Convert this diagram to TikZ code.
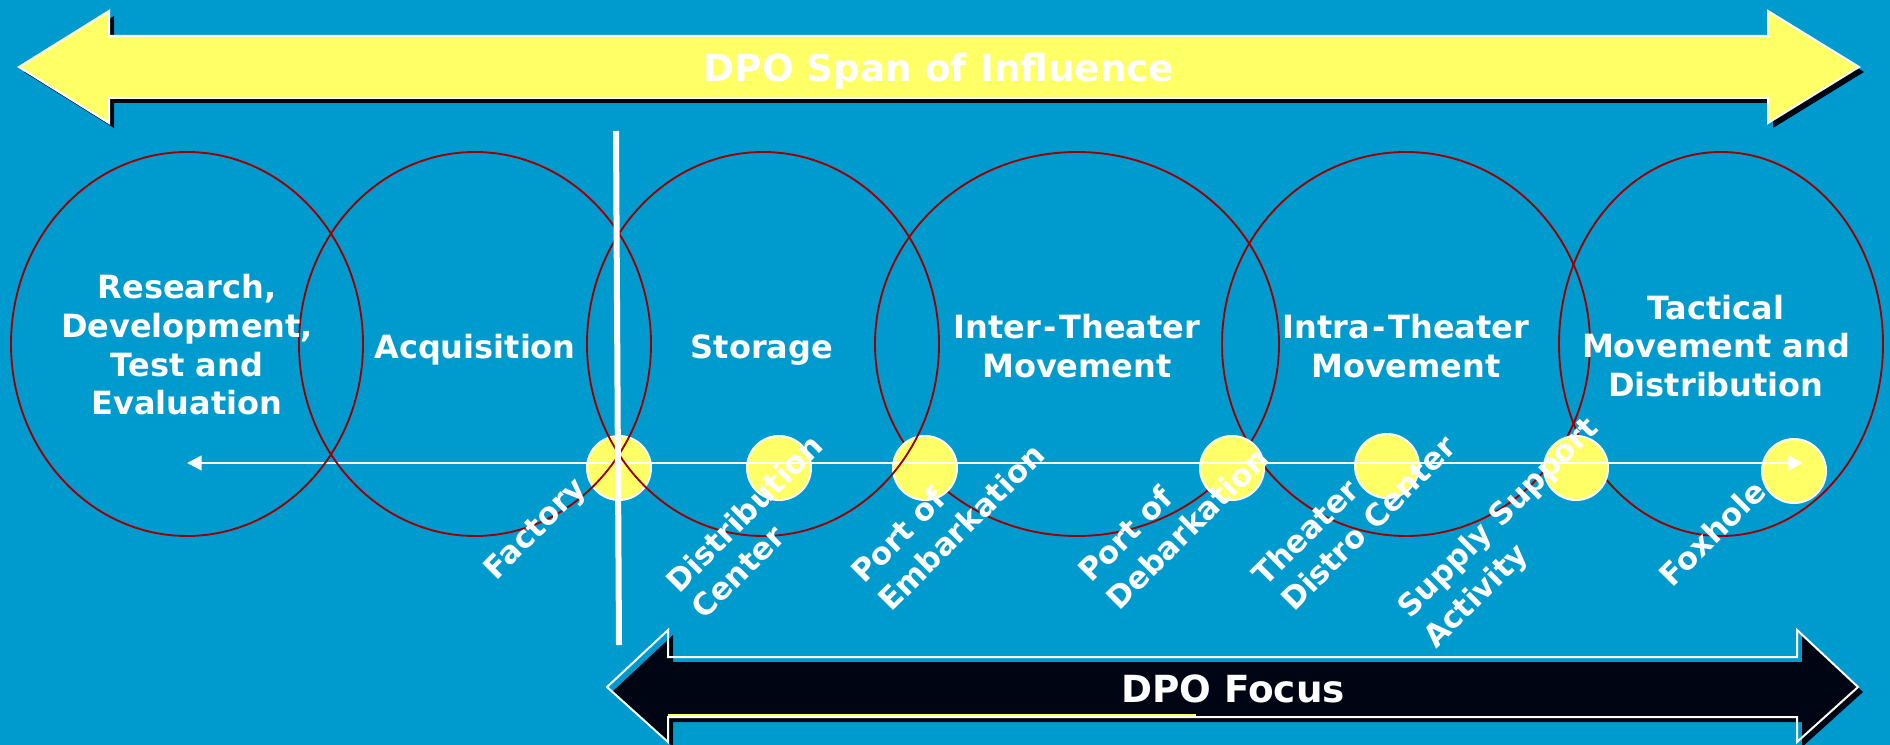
\documentclass[tikz,border=0pt]{standalone}
\usepackage{fontspec}
\setmainfont{DejaVu Sans}
\usetikzlibrary{shapes.geometric,arrows.meta}
\definecolor{bgblue}{HTML}{009BCE}
\definecolor{lemon}{HTML}{FFFF66}
\definecolor{ringred}{HTML}{990000}
\definecolor{inky}{HTML}{000514}
\tikzset{
  ring/.style={ellipse,draw=ringred,line width=1.4pt,inner sep=0pt,outer sep=0pt,minimum height=288pt},
  stop/.style={circle,fill=lemon,draw=white,line width=1.5pt,inner sep=0pt,outer sep=0pt,minimum size=48pt},
  phase/.style={text=white,font=\fontsize{24}{29}\selectfont\bfseries,align=center},
  place/.style={text=white,font=\fontsize{23}{28}\selectfont\bfseries,rotate=45,inner sep=0pt},
  banner/.style={text=white,font=\fontsize{28}{34}\selectfont\bfseries},
}
\newcommand{\widehy}{\kern2pt-\kern2pt}
\begin{document}
\begin{tikzpicture}[x=0.75pt,y=-0.75pt]
\useasboundingbox (0,0) rectangle (1890,745);
\clip (0,0) rectangle (1890,745);
\fill[bgblue] (0,0) rectangle (1890,745);
% yellow arrow
\fill[inky,shift={(5,5)}] (19,67)--(109,11)--(109,36)--(1768,36)--(1768,11)--(1859,67)--(1768,123)--(1768,98)--(109,98)--(109,123)--cycle;
\filldraw[fill=lemon,draw=white,line width=1.5pt,line join=miter] (19,67)--(109,11)--(109,36)--(1768,36)--(1768,11)--(1859,67)--(1768,123)--(1768,98)--(109,98)--(109,123)--cycle;
% rings under the stops
\node[ring,minimum width=303pt] (r4) at (1077,344) {};
\node[ring,minimum width=276pt] (r5) at (1406,344) {};
\node[ring,minimum width=243pt] (r6) at (1721,344) {};
% stops
\node[stop] (s1) at (619,468) {};
\node[stop] (s2) at (779,468) {};
\node[stop] (s3) at (925,468) {};
\node[stop] (s4) at (1232,468) {};
\node[stop] (s5) at (1387,466) {};
\node[stop] (s6) at (1576,468) {};
\node[stop] (s7) at (1794,471) {};
% flow line
\coordinate (flowL) at (187,463);
\coordinate (flowR) at (1803,463);
\draw[white,line width=1.8pt,{Triangle[length=11pt,width=11pt]}-{Triangle[length=11pt,width=11pt]}] (flowL) -- (flowR);
% rings over the stops
\node[ring,minimum width=264pt] (r1) at (187,344) {};
\node[ring,minimum width=264pt] (r2) at (475,344) {};
\node[ring,minimum width=264pt] (r3) at (763,344) {};
% divider
\coordinate (divT) at (616,131);
\coordinate (divB) at (619,645);
\draw[white,line width=4.5pt] (divT) -- (divB);
% black arrow
\fill[inky,shift={(5,5)}] (607,687)--(668,630)--(668,657)--(1797,657)--(1797,630)--(1858,687)--(1797,742)--(1797,717)--(668,717)--(668,742)--cycle;
\draw[lemon,line width=0.9pt] (668,715) -- (1196,715);
\draw[white,line width=1.5pt] (607,687)--(668,630)--(668,657)--(1797,657)--(1797,630)--(1858,687)--(1797,742)--(1797,717)--(668,717)--(668,742)--cycle;
% banners
\node[banner] (span) at (939,71) {DPO Span of Influence};
\node[banner] (focus) at (1233,689) {DPO Focus};
% phases
\node[phase] (p1) at (187,345) {Research,\\Development,\\Test and\\Evaluation};
\node[phase] (p2) at (475,350) {Acquisition};
\node[phase] (p3) at (762,350) {Storage};
\node[phase] (p4) at (1077,346) {Inter\widehy Theater\\Movement};
\node[phase] (p5) at (1406,346) {Intra\widehy Theater\\Movement};
\node[phase] (p6) at (1716,346) {Tactical\\Movement and\\Distribution};
% places
\node[place] (l1) at (536,530) {Factory};
\node[place] (l2a) at (744,513) {Distribution};
\node[place] (l2b) at (738,572) {Center};
\node[place] (l3a) at (898,535) {Port of};
\node[place] (l3b) at (961,527) {Embarkation};
\node[place] (l4a) at (1125,534) {Port of};
\node[place] (l4b) at (1187,528) {Debarkation};
\node[place] (l5a) at (1305,532) {Theater};
\node[place] (l5b) at (1368,523) {Distro Center};
\node[place] (l6a) at (1499,519) {Supply Support};
\node[place] (l6b) at (1477,597) {Activity};
\node[place] (l7) at (1712,533) {Foxhole};
\end{tikzpicture}
\end{document}
